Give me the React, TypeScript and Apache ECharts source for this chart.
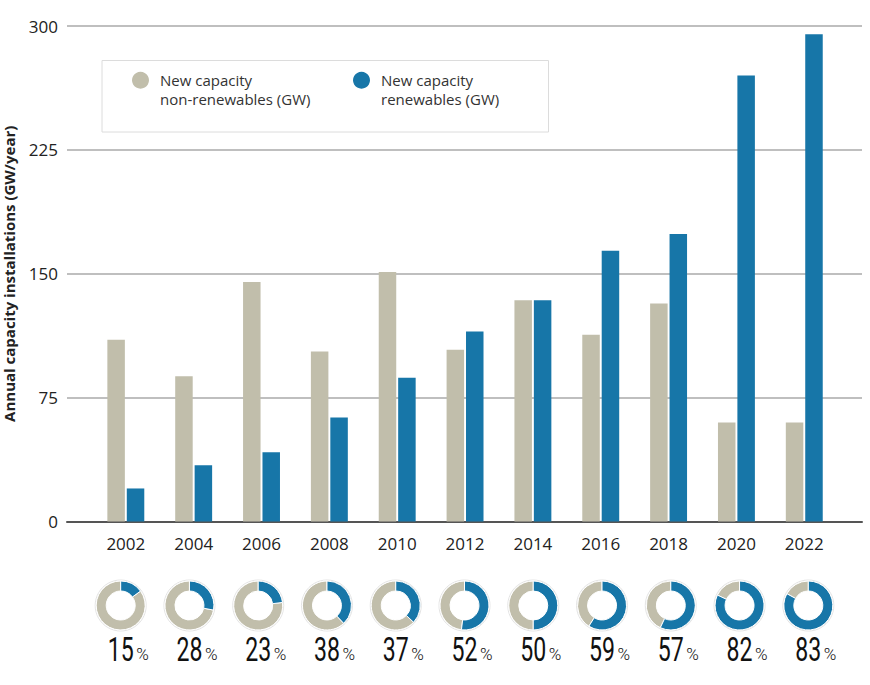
import React, { useEffect, useRef } from 'react';
import * as echarts from 'echarts';

const years = ['2002', '2004', '2006', '2008', '2010', '2012', '2014', '2016', '2018', '2020', '2022'];
const nonRenewables = [110, 88, 145, 103, 151, 104, 134, 113, 132, 60, 60];
const renewables = [20, 34, 42, 63, 87, 115, 134, 164, 174, 270, 295];
const renewableShare = [15, 28, 23, 38, 37, 52, 50, 59, 57, 82, 83];
const yMin = 0;
const yMax = 300;
const yStep = 75;
const seriesNames = ['New capacity\nnon-renewables (GW)', 'New capacity\nrenewables (GW)'];
const yAxisTitle = 'Annual capacity installations (GW/year)';

const GRAY = '#c1beab';
const BLUE = '#1776a8';
const TEXT = '#222';
const FONT = '"Open Sans", sans-serif';

export default function App() {
  const ref = useRef<HTMLDivElement>(null);

  useEffect(() => {
    const chart = echarts.init(ref.current as HTMLDivElement, null, { renderer: 'svg' });
    const top = 26;
    const bottom = 685 - 521.5;

    const legendText = {
      color: '#333',
      fontSize: 15,
      fontFamily: FONT,
      lineHeight: 18.5,
      padding: [0, 0, 0, 6],
    };

    const option: any = {
      animation: false,
      backgroundColor: '#fff',
      graphic: [
        {
          type: 'rect',
          z: 0,
          silent: true,
          shape: { x: 102, y: 60.5, width: 446.5, height: 71.5 },
          style: { fill: '#fff', stroke: '#dcdcdc', lineWidth: 1 },
        },
      ],
      legend: [
        {
          data: [{ name: seriesNames[0], icon: 'circle' }],
          left: 132,
          top: 52.5,
          padding: 0,
          itemWidth: 17,
          itemHeight: 17,
          selectedMode: false,
          formatter: (name: string) => '\n' + name,
          textStyle: legendText,
        },
        {
          data: [{ name: seriesNames[1], icon: 'circle' }],
          left: 353,
          top: 52.5,
          padding: 0,
          itemWidth: 17,
          itemHeight: 17,
          selectedMode: false,
          formatter: (name: string) => '\n' + name,
          textStyle: legendText,
        },
      ],
      grid: [
        { left: 67, right: 8, top, bottom, outerBoundsMode: 'none', containLabel: false },
        { left: 91.9, right: 31.8, top, bottom, outerBoundsMode: 'none', containLabel: false },
        { left: 86.3, right: 870 - 842.7, top, bottom, outerBoundsMode: 'none', containLabel: false },
      ],
      xAxis: [
        {
          gridIndex: 0,
          type: 'category',
          data: years,
          axisLine: { show: true, lineStyle: { color: '#555', width: 2 } },
          axisTick: { show: false },
          axisLabel: { show: false },
          splitLine: { show: false },
        },
        {
          gridIndex: 1,
          type: 'category',
          data: years,
          axisLine: { show: false },
          axisTick: { show: false },
          splitLine: { show: false },
          axisLabel: { color: TEXT, fontSize: 17, fontFamily: FONT, margin: 13 },
        },
        { gridIndex: 2, type: 'category', data: years, show: false },
      ],
      yAxis: [
        {
          gridIndex: 0,
          type: 'value',
          min: yMin,
          max: yMax,
          interval: yStep,
          axisLine: { show: false },
          axisTick: { show: false },
          axisLabel: { color: TEXT, fontSize: 17, fontFamily: FONT, margin: 9 },
          splitLine: { show: true, lineStyle: { color: '#aaa', width: 1.5 } },
          name: yAxisTitle,
          nameLocation: 'middle',
          nameGap: 51,
          nameMoveOverlap: false,
          nameTextStyle: { color: TEXT, fontSize: 15, fontWeight: 'bold', fontFamily: FONT },
        },
        { gridIndex: 1, type: 'value', min: yMin, max: yMax, interval: yStep, show: false, splitLine: { show: false } },
        { gridIndex: 2, type: 'value', min: yMin, max: yMax, interval: yStep, show: false, splitLine: { show: false } },
      ],
      series: [
        {
          type: 'bar',
          name: seriesNames[0],
          xAxisIndex: 1,
          yAxisIndex: 1,
          data: nonRenewables,
          barWidth: 17.5,
          barGap: '11%',
          itemStyle: { color: GRAY },
        },
        {
          type: 'bar',
          name: seriesNames[1],
          xAxisIndex: 1,
          yAxisIndex: 1,
          data: renewables,
          barWidth: 17.5,
          barGap: '11%',
          itemStyle: { color: BLUE },
        },
        {
          type: 'custom',
          xAxisIndex: 2,
          yAxisIndex: 2,
          clip: false,
          silent: true,
          data: renewableShare.map((p, i) => [i, p]),
          renderItem: (params: any, api: any) => {
            const idx = api.value(0);
            const pct = api.value(1);
            const base = api.coord([idx, 0]);
            const cx = base[0];
            const cy = base[1] + 84;
            const r = 24.5;
            const r0 = 14.5;
            const start = -Math.PI / 2;
            const mid = start + (2 * Math.PI * pct) / 100;
            const end = start + 2 * Math.PI;
            return {
              type: 'group',
              children: [
                {
                  type: 'circle',
                  shape: { cx, cy, r: r + 1 },
                  style: { fill: 'none', stroke: '#e4e4e4', lineWidth: 1 },
                },
                {
                  type: 'sector',
                  shape: { cx, cy, r, r0, startAngle: mid, endAngle: end, clockwise: true },
                  style: { fill: GRAY, stroke: '#fff', lineWidth: 1 },
                },
                {
                  type: 'sector',
                  shape: { cx, cy, r, r0, startAngle: start, endAngle: mid, clockwise: true },
                  style: { fill: BLUE, stroke: '#fff', lineWidth: 1 },
                },
                {
                  type: 'text',
                  x: cx,
                  y: cy + 44.5,
                  scaleX: 0.7,
                  style: {
                    text: String(pct),
                    fill: '#111',
                    fontSize: 33,
                    fontFamily: 'Roboto',
                    fontWeight: 400,
                    align: 'center',
                    verticalAlign: 'middle',
                  },
                },
                {
                  type: 'text',
                  x: cx + 15.5,
                  y: cy + 48,
                  style: {
                    text: '%',
                    fill: '#111',
                    fontSize: 17,
                    fontFamily: 'Roboto',
                    fontWeight: 300,
                    align: 'left',
                    verticalAlign: 'middle',
                  },
                },
              ],
            };
          },
        },
      ],
    };

    chart.setOption(option);
    return () => {
      chart.dispose();
    };
  }, []);

  return <div ref={ref} style={{ position: 'fixed', left: 0, top: 0, width: 870, height: 685 }} />;
}
